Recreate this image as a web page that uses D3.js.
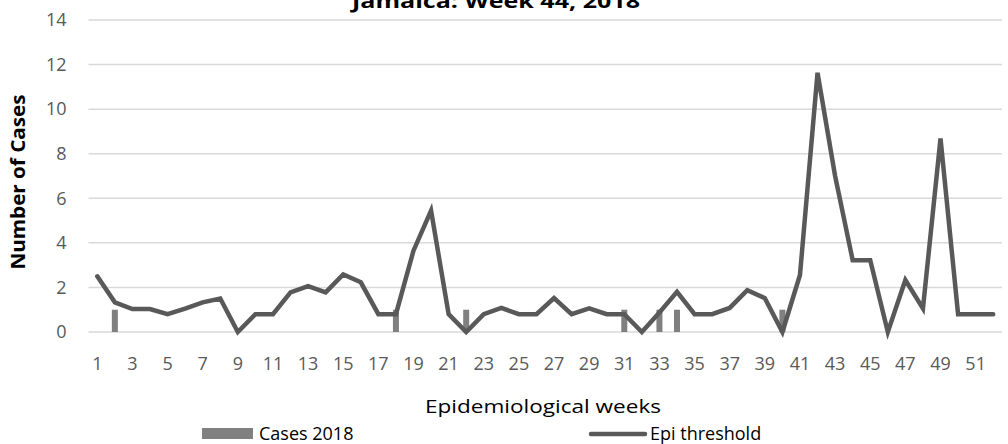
<!DOCTYPE html>
<html>
<head>
<meta charset="utf-8">
<script src="https://cdn.jsdelivr.net/npm/d3@7"></script>
<style>
  html, body { margin: 0; padding: 0; background: #fff; }
  svg { display: block; font-family: "Open Sans", Lato, "Noto Sans", sans-serif; }
</style>
</head>
<body>
<svg id="chart" width="1008" height="444"></svg>
<script>
// Epidemiological weeks 1..52
const weeks = d3.range(1, 53);

// Confirmed cases reported in 2018, by week
const cases2018 = [
  0, 1, 0, 0, 0, 0, 0, 0, 0, 0,
  0, 0, 0, 0, 0, 0, 0, 1, 0, 0,
  0, 1, 0, 0, 0, 0, 0, 0, 0, 0,
  1, 0, 1, 1, 0, 0, 0, 0, 0, 1,
  0, 0, 0, 0, 0, 0, 0, 0, 0, 0,
  0, 0
];

// Epidemic threshold, by week
const epiThreshold = [
  2.5, 1.33, 1.03, 1.03, 0.8, 1.05, 1.33, 1.5, 0, 0.8,
  0.8, 1.78, 2.06, 1.78, 2.58, 2.23, 0.8, 0.8, 3.65, 5.45,
  0.8, 0, 0.8, 1.08, 0.8, 0.8, 1.52, 0.8, 1.06, 0.8,
  0.8, 0, 0.88, 1.8, 0.8, 0.8, 1.08, 1.88, 1.52, 0,
  2.56, 11.63, 7.0, 3.22, 3.22, 0, 2.33, 1.06, 8.68, 0.8,
  0.8, 0.8
];

const yTicks = [0, 2, 4, 6, 8, 10, 12, 14];
const xTickLabels = weeks.filter(w => w % 2 === 1);

const svg = d3.select("#chart");
const margin = { left: 88.5, right: 1002, top: 20, bottom: 332 };

const x = d3.scaleBand()
  .domain(weeks)
  .range([margin.left, margin.right])
  .paddingInner(0)
  .paddingOuter(0);

const y = d3.scaleLinear()
  .domain([0, 14])
  .range([margin.bottom, margin.top]);

// Horizontal gridlines
svg.append("g")
  .selectAll("line")
  .data(yTicks)
  .join("line")
  .attr("x1", margin.left)
  .attr("x2", margin.right)
  .attr("y1", d => y(d))
  .attr("y2", d => y(d))
  .attr("stroke", "#d9d9d9")
  .attr("stroke-width", 1.5);

// Y axis tick labels
const yAxis = d3.axisLeft(y).tickValues(yTicks).tickSize(0).tickPadding(22);
svg.append("g")
  .attr("transform", `translate(${margin.left},0)`)
  .call(yAxis)
  .call(g => g.select(".domain").remove())
  .selectAll("text")
  .attr("fill", "#595959")
  .attr("font-size", 18)
  .attr("font-family", "'Open Sans', Lato, sans-serif");

// X axis tick labels (odd weeks)
const xAxis = d3.axisBottom(x).tickValues(xTickLabels).tickSize(0).tickPadding(25);
svg.append("g")
  .attr("transform", `translate(0,${margin.bottom})`)
  .call(xAxis)
  .call(g => g.select(".domain").remove())
  .selectAll("text")
  .attr("fill", "#595959")
  .attr("font-size", 18)
  .attr("font-family", "'Open Sans', Lato, sans-serif");

// Case bars
const barW = 6;
svg.append("g")
  .selectAll("rect")
  .data(weeks.map((w, i) => ({ w, v: cases2018[i] })).filter(d => d.v > 0))
  .join("rect")
  .attr("x", d => x(d.w) + x.bandwidth() / 2 - barW / 2)
  .attr("y", d => y(d.v))
  .attr("width", barW)
  .attr("height", d => y(0) - y(d.v))
  .attr("fill", "#808080");

// Threshold line
const line = d3.line()
  .x((d, i) => x(weeks[i]) + x.bandwidth() / 2)
  .y(d => y(d));

svg.append("path")
  .datum(epiThreshold)
  .attr("d", line)
  .attr("fill", "none")
  .attr("stroke", "#595959")
  .attr("stroke-width", 4.5)
  .attr("stroke-linejoin", "miter")
  .attr("stroke-linecap", "round");

// Title
svg.append("text")
  .attr("x", 496)
  .attr("y", 8)
  .attr("text-anchor", "middle")
  .attr("font-size", 20)
  .attr("font-weight", "bold")
  .attr("fill", "#000")
  .attr("textLength", 288)
  .attr("lengthAdjust", "spacingAndGlyphs")
  .text("Jamaica: Week 44, 2018");

// Axis titles
svg.append("text")
  .attr("transform", "translate(25,182) rotate(-90)")
  .attr("text-anchor", "middle")
  .attr("font-size", 19)
  .attr("font-weight", "bold")
  .attr("fill", "#000")
  .attr("textLength", 175)
  .attr("lengthAdjust", "spacingAndGlyphs")
  .text("Number of Cases");

svg.append("text")
  .attr("x", 543)
  .attr("y", 413)
  .attr("text-anchor", "middle")
  .attr("font-size", 19)
  .attr("fill", "#000")
  .attr("textLength", 236)
  .attr("lengthAdjust", "spacingAndGlyphs")
  .text("Epidemiological weeks");

// Legend
const legend = svg.append("g");
legend.append("rect")
  .attr("x", 202).attr("y", 428).attr("width", 51).attr("height", 11)
  .attr("fill", "#808080");
legend.append("text")
  .attr("x", 259).attr("y", 440)
  .attr("font-size", 18).attr("fill", "#000")
  .text("Cases 2018");
legend.append("line")
  .attr("x1", 591).attr("x2", 645).attr("y1", 434).attr("y2", 434)
  .attr("stroke", "#595959").attr("stroke-width", 4.5).attr("stroke-linecap", "round");
legend.append("text")
  .attr("x", 650).attr("y", 440)
  .attr("font-size", 18).attr("fill", "#000")
  .text("Epi threshold");
</script>
</body>
</html>
